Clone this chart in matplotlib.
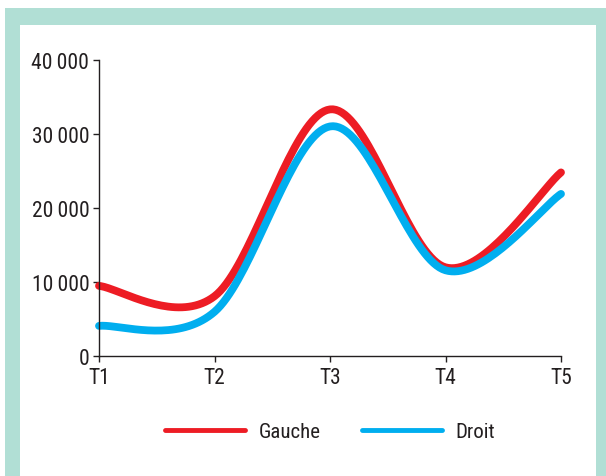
import numpy as np
import matplotlib.pyplot as plt
from matplotlib.patches import Rectangle
from matplotlib.lines import Line2D

plt.rcParams['font.family'] = ['Roboto Condensed', 'Open Sans Condensed', 'Lato', 'DejaVu Sans']

periods = ['T1', 'T2', 'T3', 'T4', 'T5']
gauche = [9500, 8100, 33300, 12000, 24800]
droit = [4100, 6000, 31000, 11600, 21900]
y_ticks = [0, 10000, 20000, 30000, 40000]
y_labels = ['0', '10\u2009000', '20\u2009000', '30\u2009000', '40\u2009000']

RED = '#ed1c24'
BLUE = '#00aeef'
TEAL = '#b1dfd5'
TXT = '#231f20'


def smooth(xs, ys, n=40):
    # bezier smoothing through the points (catmull-rom style)
    pts = np.column_stack([xs, ys]).astype(float)
    out = []
    for i in range(len(pts) - 1):
        p0 = pts[max(i - 1, 0)]
        p1 = pts[i]
        p2 = pts[i + 1]
        p3 = pts[min(i + 2, len(pts) - 1)]
        c1 = p1 + (p2 - p0) / 6
        c2 = p2 - (p3 - p1) / 6
        t = np.linspace(0, 1, n)[:, None]
        seg = (1 - t)**3 * p1 + 3 * (1 - t)**2 * t * c1 + 3 * (1 - t) * t**2 * c2 + t**3 * p2
        out.append(seg if i == 0 else seg[1:])
    return np.vstack(out)


W, H = 606, 477
fig = plt.figure(figsize=(W / 100, H / 100), dpi=100)

# teal frame
fig.patches.append(Rectangle((5 / W, 0), 601 / W, (H - 9) / H, transform=fig.transFigure,
                             facecolor=TEAL, edgecolor='none', zorder=-2))
fig.patches.append(Rectangle((20 / W, 0), 576 / W, (H - 26) / H, transform=fig.transFigure,
                             facecolor='white', edgecolor='none', zorder=-1))

ax = fig.add_axes([99 / W, (H - 357.3) / H, 462 / W, 296.6 / H])
ax.patch.set_alpha(0)

x = np.arange(len(periods))
for vals, col in [(gauche, RED), (droit, BLUE)]:
    c = smooth(x, vals)
    ax.plot(c[:, 0], c[:, 1], color=col, lw=5.6, solid_capstyle='round', clip_on=False)

ax.set_xlim(0, len(periods) - 1)
ax.set_ylim(0, 40000)
ax.set_xticks(x)
ax.set_xticklabels(periods)
ax.set_yticks(y_ticks)
ax.set_yticklabels(y_labels)
ax.tick_params(colors=TXT, labelsize=15.5, length=4, width=1)
ax.tick_params(axis='y', pad=3)
ax.tick_params(axis='x', pad=4)
for s in ['top', 'right']:
    ax.spines[s].set_visible(False)
for s in ['left', 'bottom']:
    ax.spines[s].set_color(TXT)
    ax.spines[s].set_linewidth(1)

handles = [Line2D([], [], color=RED, lw=3.5, solid_capstyle='round'),
           Line2D([], [], color=BLUE, lw=3.5, solid_capstyle='round')]
leg = ax.legend(handles, ['Gauche', 'Droit'], loc='center', bbox_to_anchor=(0.5, -0.255),
                ncol=2, frameon=False, fontsize=15, handlelength=3.85, handletextpad=0.62,
                columnspacing=2.0)
for t in leg.get_texts():
    t.set_color(TXT)

fig.savefig('out.png', dpi=100)
